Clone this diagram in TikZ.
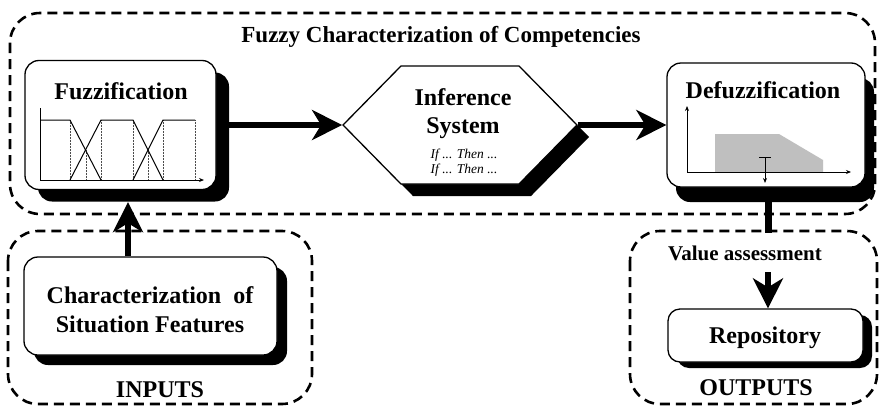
\documentclass[tikz,border=0pt]{standalone}
\usepackage{fontspec}
\setmainfont{Liberation Serif}
\usetikzlibrary{shapes.symbols,shadows,arrows.meta,calc}
\begin{document}
\begin{tikzpicture}[x=1pt,y=-1pt,
  dashbox/.style={line width=2.6pt, dash pattern=on 10pt off 6pt, rounded corners=30pt},
  whitebox/.style={draw, line width=1.3pt, fill=white, rounded corners=14pt, inner sep=0pt},
  bigfont/.style={font=\fontsize{24}{28}\selectfont\bfseries, inner sep=0pt},
  titlefont/.style={font=\fontsize{23}{28}\selectfont\bfseries, inner sep=0pt},
  smallit/.style={font=\fontsize{13.5}{15}\selectfont\itshape, inner sep=0pt},
  thickarrow/.style={line width=6pt, -{Stealth[length=30pt,width=30pt,inset=9pt]}},
  thinline/.style={line width=1pt},
  dotline/.style={line width=0.5pt, densely dotted, black!70},
]
\useasboundingbox (0,0) rectangle (880,407);

% dashed group boxes
\draw[dashbox] (10,13) rectangle (875,214);
\draw[dashbox] (8,231) rectangle (312,404);
\draw[dashbox] (630,231) rectangle (877,404);

\node[titlefont, anchor=base] (title) at (441,42) {Fuzzy Characterization of Competencies};

% Fuzzification
\node[whitebox, minimum width=191pt, minimum height=129pt,
  drop shadow={shadow xshift=13pt, shadow yshift=-12pt, fill=black, opacity=1}] (fuzz) at (120.5,125) {};
\node[bigfont, anchor=base] (fuzzt) at (121,99) {Fuzzification};
\draw[thinline,-{Stealth[length=5pt,width=4pt]}] (40,180) -- (204,180);
\draw[thinline] (40,180) -- (40,108);
\foreach \x/\ya in {70/120,86/150,101/120,133/120,148/150,163/120,195/120}
  \draw[dotline] (\x,\ya) -- (\x,180);
\draw[thinline] (40,120) -- (70,120) -- (101,180);
\draw[thinline] (70,180) -- (101,120) -- (133,120) -- (163,180);
\draw[thinline] (133,180) -- (163,120) -- (195,120);

% Inference system
\node[draw, line width=1.3pt, fill=white, shape=signal, signal to=west and east,
  signal pointer angle=91, minimum width=234pt, minimum height=118pt, inner sep=0pt,
  drop shadow={shadow xshift=12pt, shadow yshift=-12pt, fill=black, opacity=1}] (inf) at (460,125) {};
\node[bigfont, anchor=base] (inft1) at (463,105) {Inference};
\node[bigfont, anchor=base] (inft2) at (463,133) {System};
\node[smallit, anchor=base] (if1) at (464,158) {If ... Then ...};
\node[smallit, anchor=base] (if2) at (464,173) {If ... Then ...};

% Defuzzification
\node[whitebox, minimum width=198pt, minimum height=124pt,
  drop shadow={shadow xshift=9pt, shadow yshift=-15pt, fill=black, opacity=1}] (defuzz) at (766,125) {};
\node[bigfont, anchor=base] (defuzzt) at (763,98) {Defuzzification};
\fill[black!25] (715,134) -- (779,134) -- (823,160) -- (823,172) -- (715,172) -- cycle;
\draw[thinline,-{Stealth[length=5pt,width=4pt]}] (687,172) -- (851,172);
\draw[thinline,-{Stealth[length=5pt,width=4pt]}] (687,172) -- (687,106);
\draw[thinline] (759,157) -- (771,157);
\draw[thinline,-{Stealth[length=5pt,width=4pt]}] (765,157) -- (765,183);

% Characterization
\node[whitebox, minimum width=253pt, minimum height=98pt,
  drop shadow={shadow xshift=10pt, shadow yshift=-10pt, fill=black, opacity=1}] (char) at (150.5,306) {};
\node[bigfont, anchor=base] (chart1) at (150,303) {Characterization\ \ of};
\node[bigfont, anchor=base] (chart2) at (150,332) {Situation Features};
\node[bigfont, anchor=base] (inputs) at (160,397) {INPUTS};

% Repository
\node[whitebox, minimum width=195pt, minimum height=53pt, rounded corners=12pt,
  drop shadow={shadow xshift=9pt, shadow yshift=-6pt, fill=black, opacity=1}] (repo) at (765.5,335.5) {};
\node[bigfont, anchor=base] (repot) at (765,343) {Repository};
\node[bigfont, anchor=base] (outputs) at (756,395) {OUTPUTS};
\node[font=\fontsize{21}{24}\selectfont\bfseries, inner sep=0pt, anchor=base] (va) at (745,260) {Value assessment};

% connectors
\draw[thickarrow] (fuzz.east) -- (inf.west);
\draw[thickarrow] (inf.east) -- (defuzz.west);
\draw[thickarrow, shorten >=12pt] (char.north -| 128,0) -- (fuzz.south -| 128,0);
\coordinate (vaTop) at (768,233);
\coordinate (vaBot) at (768,272);
\draw[line width=7pt] (defuzz.south -| vaTop) -- (vaTop);
\draw[thickarrow] (vaBot) -- (repo.north -| vaBot);
\end{tikzpicture}
\end{document}
